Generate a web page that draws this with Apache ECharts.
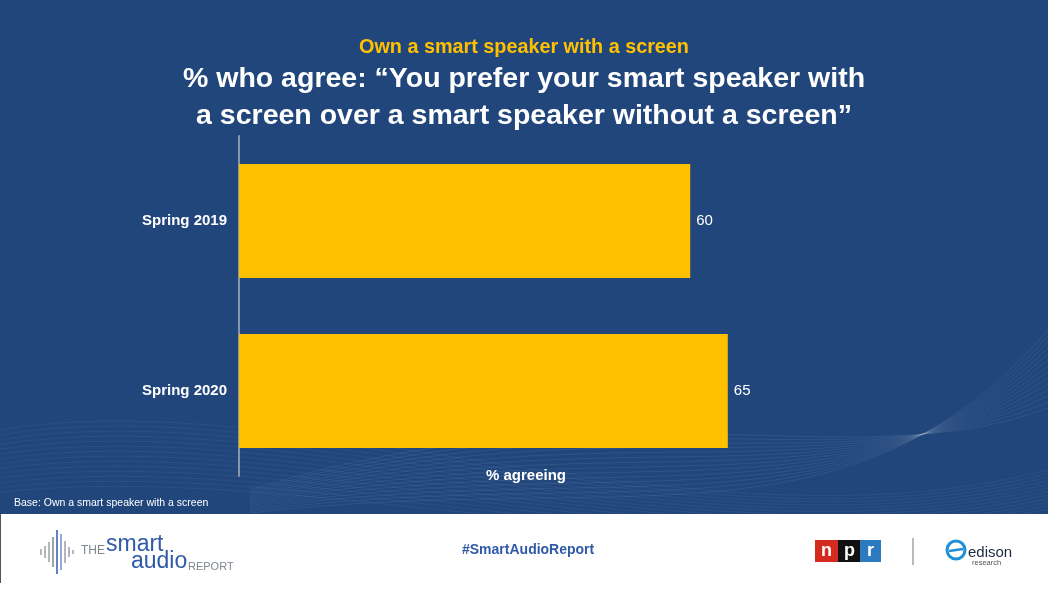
<!DOCTYPE html>
<html>
<head>
<meta charset="utf-8">
<script src="https://cdn.jsdelivr.net/npm/echarts@6/dist/echarts.min.js"></script>
<style>
html,body{margin:0;padding:0;background:#fff;}
#chart{width:1048px;height:590px;}
</style>
</head>
<body>
<div id="chart"></div>
<script>
const categories = ['Spring 2019', 'Spring 2020'];
const values = [60, 65];
const titleTop = 'Own a smart speaker with a screen';
const titleMain = '% who agree: \u201cYou prefer your smart speaker with\na screen over a smart speaker without a screen\u201d';
const axisName = '% agreeing';
const baseNote = 'Base: Own a smart speaker with a screen';

const chart = echarts.init(document.getElementById('chart'), null, {renderer: 'canvas'});

// decorative wave lines (background ornament)
const waves = [];
for (let i = 0; i < 14; i++) {
  const o = i * 6;
  waves.push({
    type: 'bezierCurve', silent: true, z: 0,
    shape: {x1: 250, y1: 513 - o * 0.3, x2: 1048, y2: 330 + o, cpx1: 620, cpy1: 470 - o * 1.2, cpx2: 850, cpy2: 560 - o},
    style: {stroke: 'rgba(255,255,255,0.07)', lineWidth: 1, fill: null}
  });
  waves.push({
    type: 'bezierCurve', silent: true, z: 0,
    shape: {x1: 0, y1: 430 + o * 0.8, x2: 1048, y2: 470 + o * 0.6, cpx1: 300, cpy1: 380 + o, cpx2: 700, cpy2: 560 + o * 0.3},
    style: {stroke: 'rgba(255,255,255,0.05)', lineWidth: 1, fill: null}
  });
}

const waveBars = [
  [41, 6, '#9aa0a8'], [45, 12, '#9aa0a8'], [49, 20, '#9aa0a8'], [53, 30, '#7f8690'],
  [57, 44, '#2f5aa8'], [61, 36, '#6f8fc8'], [65, 22, '#9aa0a8'], [69, 10, '#9aa0a8'], [73, 4, '#9aa0a8']
];
const waveGraphics = waveBars.map(b => ({
  type: 'line', silent: true, z: 3,
  shape: {x1: b[0], y1: 552 - b[1] / 2, x2: b[0], y2: 552 + b[1] / 2},
  style: {stroke: b[2], lineWidth: 1.5}
}));

const option = {
  backgroundColor: '#21467c',
  animation: false,
  title: [
    {text: titleTop, left: 'center', top: 33,
     textStyle: {color: '#ffc000', fontSize: 19.8, fontWeight: 'bold', fontFamily: 'Liberation Sans, Arial'}},
    {text: titleMain, left: 'center', top: 56,
     textStyle: {color: '#ffffff', fontSize: 28.5, fontWeight: 'bold', lineHeight: 37, fontFamily: 'Liberation Sans, Arial'}}
  ],
  grid: {left: 239, right: 57, top: 136, height: 340, containLabel: false},
  xAxis: {
    type: 'value', min: 0, max: 100,
    axisLine: {show: false}, axisTick: {show: false}, axisLabel: {show: false}, splitLine: {show: false}
  },
  yAxis: {
    type: 'category', data: categories, inverse: true,
    axisLine: {show: true, lineStyle: {color: '#8796ad', width: 2}},
    axisTick: {show: false},
    axisLabel: {color: '#ffffff', fontSize: 15, fontWeight: 'bold', margin: 12, fontFamily: 'Liberation Sans, Arial'}
  },
  series: [{
    type: 'bar', data: values, barCategoryGap: '33%',
    itemStyle: {color: '#ffc000'},
    label: {show: true, position: 'right', distance: 6, color: '#ffffff', fontSize: 15, fontFamily: 'Liberation Sans, Arial'}
  }],
  graphic: [
    ...waves,
    {type: 'rect', silent: true, z: 1, shape: {x: 0, y: 514, width: 1048, height: 76}, style: {fill: '#ffffff'}},
    {type: 'line', silent: true, z: 2, shape: {x1: 0.5, y1: 514, x2: 0.5, y2: 583}, style: {stroke: '#555', lineWidth: 1}},
    {type: 'text', silent: true, z: 3, left: 486, top: 468, style: {text: axisName, fill: '#ffffff', fontSize: 15, fontWeight: 'bold', fontFamily: 'Liberation Sans, Arial'}},
    {type: 'text', silent: true, z: 3, left: 14, top: 498, style: {text: baseNote, fill: '#ffffff', fontSize: 10.5, fontFamily: 'Liberation Sans, Arial'}},
    ...waveGraphics,
    {type: 'text', silent: true, z: 3, left: 81, top: 545, style: {text: 'THE', fill: '#7f8690', fontSize: 12, fontFamily: 'Liberation Sans, Arial'}},
    {type: 'text', silent: true, z: 3, left: 106, top: 533, style: {text: 'smart', fill: '#2f5aa8', fontSize: 23, fontFamily: 'Liberation Sans, Arial', letterSpacing: -0.3}},
    {type: 'text', silent: true, z: 3, left: 131, top: 550, style: {text: 'audio', fill: '#2f5aa8', fontSize: 23, fontFamily: 'Liberation Sans, Arial', letterSpacing: -0.3}},
    {type: 'text', silent: true, z: 3, left: 188, top: 561, style: {text: 'REPORT', fill: '#7f8690', fontSize: 11, fontFamily: 'Liberation Sans, Arial'}},
    {type: 'text', silent: true, z: 3, left: 462, top: 543, style: {text: '#SmartAudioReport', fill: '#2f5aa8', fontSize: 14, fontWeight: 'bold', fontFamily: 'Liberation Sans, Arial', letterSpacing: -0.6}},
    {type: 'rect', silent: true, z: 3, shape: {x: 815, y: 540, width: 23, height: 22}, style: {fill: '#d52b1e'}},
    {type: 'rect', silent: true, z: 3, shape: {x: 838, y: 540, width: 22, height: 22}, style: {fill: '#111111'}},
    {type: 'rect', silent: true, z: 3, shape: {x: 860, y: 540, width: 21, height: 22}, style: {fill: '#2c7bc0'}},
    {type: 'text', silent: true, z: 4, left: 821, top: 542, style: {text: 'n', fill: '#fff', fontSize: 18, fontWeight: 'bold', fontFamily: 'Liberation Sans, Arial'}},
    {type: 'text', silent: true, z: 4, left: 844, top: 542, style: {text: 'p', fill: '#fff', fontSize: 18, fontWeight: 'bold', fontFamily: 'Liberation Sans, Arial'}},
    {type: 'text', silent: true, z: 4, left: 867, top: 542, style: {text: 'r', fill: '#fff', fontSize: 18, fontWeight: 'bold', fontFamily: 'Liberation Sans, Arial'}},
    {type: 'line', silent: true, z: 3, shape: {x1: 913, y1: 538, x2: 913, y2: 565}, style: {stroke: '#777', lineWidth: 1}},
    {type: 'circle', silent: true, z: 3, shape: {cx: 956, cy: 550, r: 9}, style: {fill: null, stroke: '#1f8fd6', lineWidth: 3}},
    {type: 'line', silent: true, z: 3, shape: {x1: 949, y1: 551, x2: 963, y2: 549}, style: {stroke: '#1f8fd6', lineWidth: 2.5}},
    {type: 'text', silent: true, z: 3, left: 968, top: 545, style: {text: 'edison', fill: '#1a2a44', fontSize: 15, fontFamily: 'Liberation Sans, Arial'}},
    {type: 'text', silent: true, z: 3, left: 972, top: 559, style: {text: 'research', fill: '#555', fontSize: 7.5, fontFamily: 'Liberation Sans, Arial'}}
  ]
};
chart.setOption(option);
</script>
</body>
</html>
